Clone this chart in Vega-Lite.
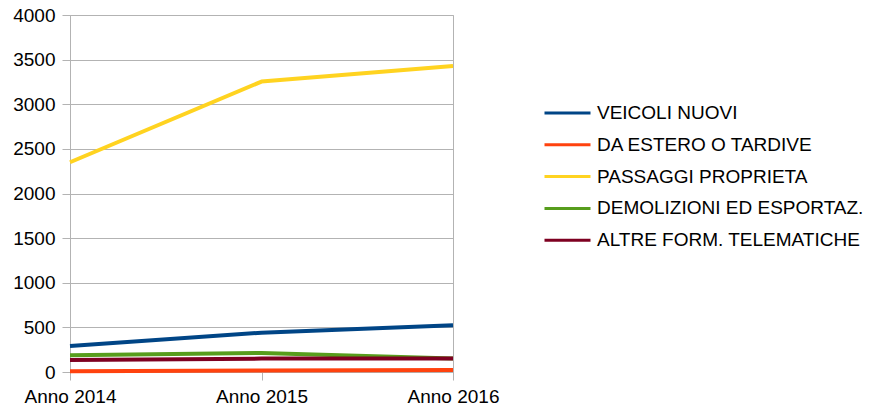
{
  "$schema": "https://vega.github.io/schema/vega-lite/v6.json",
  "width": 383,
  "height": 357,
  "autosize": {"type": "none"},
  "padding": {"left": 70, "top": 15, "right": 419, "bottom": 41},
  "config": {
    "font": "Liberation Sans",
    "view": {"stroke": "#b3b3b3", "strokeWidth": 1},
    "axis": {"labelFont": "Liberation Sans", "labelFontSize": 19, "labelColor": "#000000", "domainColor": "#b3b3b3", "tickColor": "#b3b3b3", "gridColor": "#b3b3b3", "tickSize": 8}
  },
  "data": {
    "values": [
      {"anno": "Anno 2014", "serie": "VEICOLI NUOVI", "ord": 1, "valore": 290},
      {"anno": "Anno 2015", "serie": "VEICOLI NUOVI", "ord": 1, "valore": 441},
      {"anno": "Anno 2016", "serie": "VEICOLI NUOVI", "ord": 1, "valore": 523},
      {"anno": "Anno 2014", "serie": "DA ESTERO O TARDIVE", "ord": 2, "valore": 8},
      {"anno": "Anno 2015", "serie": "DA ESTERO O TARDIVE", "ord": 2, "valore": 18},
      {"anno": "Anno 2016", "serie": "DA ESTERO O TARDIVE", "ord": 2, "valore": 22},
      {"anno": "Anno 2014", "serie": "PASSAGGI PROPRIETA", "ord": 3, "valore": 2350},
      {"anno": "Anno 2015", "serie": "PASSAGGI PROPRIETA", "ord": 3, "valore": 3254},
      {"anno": "Anno 2016", "serie": "PASSAGGI PROPRIETA", "ord": 3, "valore": 3428},
      {"anno": "Anno 2014", "serie": "DEMOLIZIONI ED ESPORTAZ.", "ord": 4, "valore": 187},
      {"anno": "Anno 2015", "serie": "DEMOLIZIONI ED ESPORTAZ.", "ord": 4, "valore": 213},
      {"anno": "Anno 2016", "serie": "DEMOLIZIONI ED ESPORTAZ.", "ord": 4, "valore": 150},
      {"anno": "Anno 2014", "serie": "ALTRE FORM. TELEMATICHE", "ord": 5, "valore": 134},
      {"anno": "Anno 2015", "serie": "ALTRE FORM. TELEMATICHE", "ord": 5, "valore": 150},
      {"anno": "Anno 2016", "serie": "ALTRE FORM. TELEMATICHE", "ord": 5, "valore": 150}
    ]
  },
  "mark": {"type": "line", "strokeWidth": 4, "strokeJoin": "round"},
  "encoding": {
    "x": {
      "field": "anno", "type": "ordinal",
      "scale": {"type": "point", "padding": 0},
      "axis": {"title": null, "labelAngle": 0, "grid": false, "labelPadding": 7}
    },
    "y": {
      "field": "valore", "type": "quantitative",
      "scale": {"domain": [0, 4000], "nice": false},
      "axis": {"title": null, "format": "d", "values": [0, 500, 1000, 1500, 2000, 2500, 3000, 3500, 4000], "grid": true, "labelPadding": 7}
    },
    "color": {
      "field": "serie", "type": "nominal",
      "scale": {
        "domain": ["VEICOLI NUOVI", "DA ESTERO O TARDIVE", "PASSAGGI PROPRIETA", "DEMOLIZIONI ED ESPORTAZ.", "ALTRE FORM. TELEMATICHE"],
        "range": ["#004586", "#ff420e", "#ffd320", "#579d1c", "#7e0021"]
      },
      "legend": {
        "title": null, "orient": "none", "legendX": 473, "legendY": 90,
        "symbolType": "stroke", "symbolSize": 2116, "symbolStrokeWidth": 3,
        "labelFontSize": 19, "labelFont": "Liberation Sans", "labelColor": "#000000",
        "labelLimit": 400, "labelOffset": 5, "clipHeight": 16, "rowPadding": 12.8
      }
    },
    "order": {"field": "ord"}
  }
}
